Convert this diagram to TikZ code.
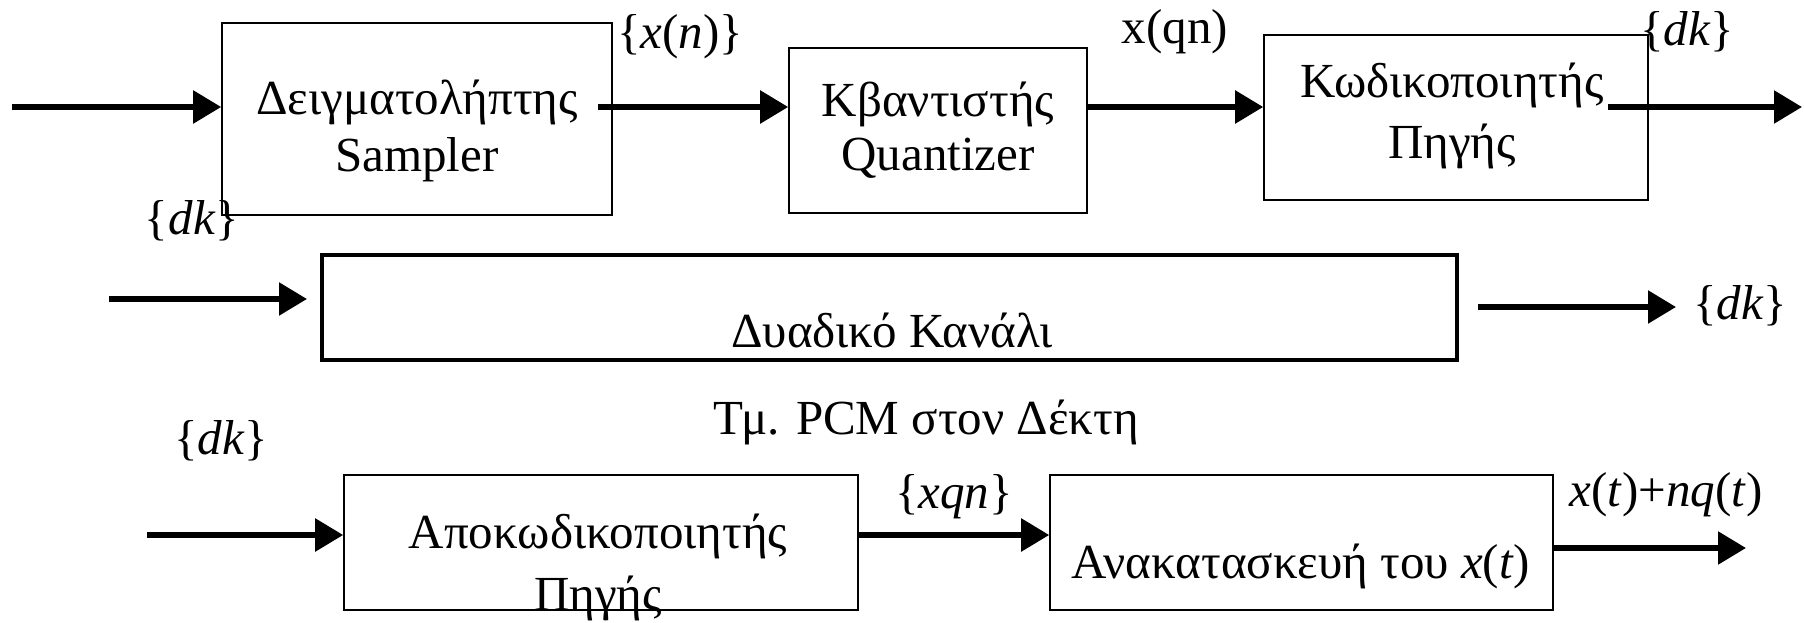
\documentclass[tikz,border=0pt]{standalone}
\usepackage{fontspec}
\setmainfont{Liberation Serif}
\usetikzlibrary{arrows.meta}
\tikzset{
  blk/.style={draw, line width=1.6pt, inner sep=0pt},
  chan/.style={draw, line width=4pt, inner sep=0pt},
  txt/.style={inner sep=0pt, font=\fontsize{49}{52}\selectfont},
  flow/.style={line width=5.5pt, -{Triangle[length=28pt,width=32pt]}},
}
\newcommand{\ii}[1]{\textit{#1}}
\begin{document}
\begin{tikzpicture}[x=1pt,y=-1pt]
\useasboundingbox (0,0) rectangle (1804,623);
% row 1
\node[blk, minimum width=390pt, minimum height=192pt] (smp) at (417,119) {};
\node[blk, minimum width=298pt, minimum height=165pt] (qnt) at (938,130.5) {};
\node[blk, minimum width=384pt, minimum height=165pt] (enc) at (1456,117.5) {};
\node[txt] (smp1) at (417,102) {Δειγματολήπτης};
\node[txt] (smp2) at (417,160) {Sampler};
\node[txt] (qnt1) at (938,104) {Κβαντιστής};
\node[txt] (qnt2) at (938,158) {Quantizer};
\node[txt] (enc1) at (1452,85) {Κωδικοποιητής};
\node[txt] (enc2) at (1452,146) {Πηγής};
\node[txt] (lxn) at (680,37) {\{\ii{x}(\ii{n})\}};
\node[txt] (lxq) at (1175,32) {x(qn)};
\node[txt] (ldk1) at (1687,32) {\{\ii{dk}\}};
\coordinate (in1) at (12,107);
\coordinate (s1) at (598,107);
\coordinate (s2) at (1608,107);
\coordinate (out1) at (1802,107);
\draw[flow] (in1) -- (smp.west|-in1);
\draw[flow] (s1) -- (qnt.west|-s1);
\draw[flow] (qnt.east|-s1) -- (enc.west|-s1);
\draw[flow] (s2) -- (out1);
% row 2
\node[chan, minimum width=1135pt, minimum height=105pt] (ch) at (889.5,307.5) {};
\node[txt] (cht) at (892,330) {Δυαδικό Κανάλι};
\node[txt] (ldk2) at (192,221) {\{\ii{dk}\}};
\node[txt] (ldk3) at (1740,306) {\{\ii{dk}\}};
\coordinate (in2) at (109,299);
\coordinate (e2) at (307,299);
\coordinate (o2a) at (1478,307);
\coordinate (o2b) at (1676,307);
\draw[flow] (in2) -- (e2);
\draw[flow] (o2a) -- (o2b);
% row 3
\node[txt] (ttl) at (926,422) {Τμ. PCM στον Δέκτη};
\node[blk, minimum width=514pt, minimum height=135pt] (dec) at (601,542.5) {};
\node[blk, minimum width=503pt, minimum height=135pt] (rec) at (1301.5,542.5) {};
\node[txt] (dec1) at (598,536) {Αποκωδικοποιητής};
\node[txt] (dec2) at (598,598) {Πηγής};
\node[txt] (rect) at (1301,566) {Ανακατασκευή του \ii{x}(\ii{t})};
\node[txt] (ldk4) at (221,441) {\{\ii{dk}\}};
\node[txt] (lxqn) at (954,497) {\{\ii{xqn}\}};
\node[txt] (lout) at (1666,495) {\ii{x}(\ii{t})+\ii{nq}(\ii{t})};
\coordinate (in3) at (147,535);
\coordinate (o3a) at (1553,548);
\coordinate (o3b) at (1746,548);
\draw[flow] (in3) -- (dec.west|-in3);
\draw[flow] (dec.east|-in3) -- (rec.west|-in3);
\draw[flow] (o3a) -- (o3b);
\end{tikzpicture}
\end{document}
